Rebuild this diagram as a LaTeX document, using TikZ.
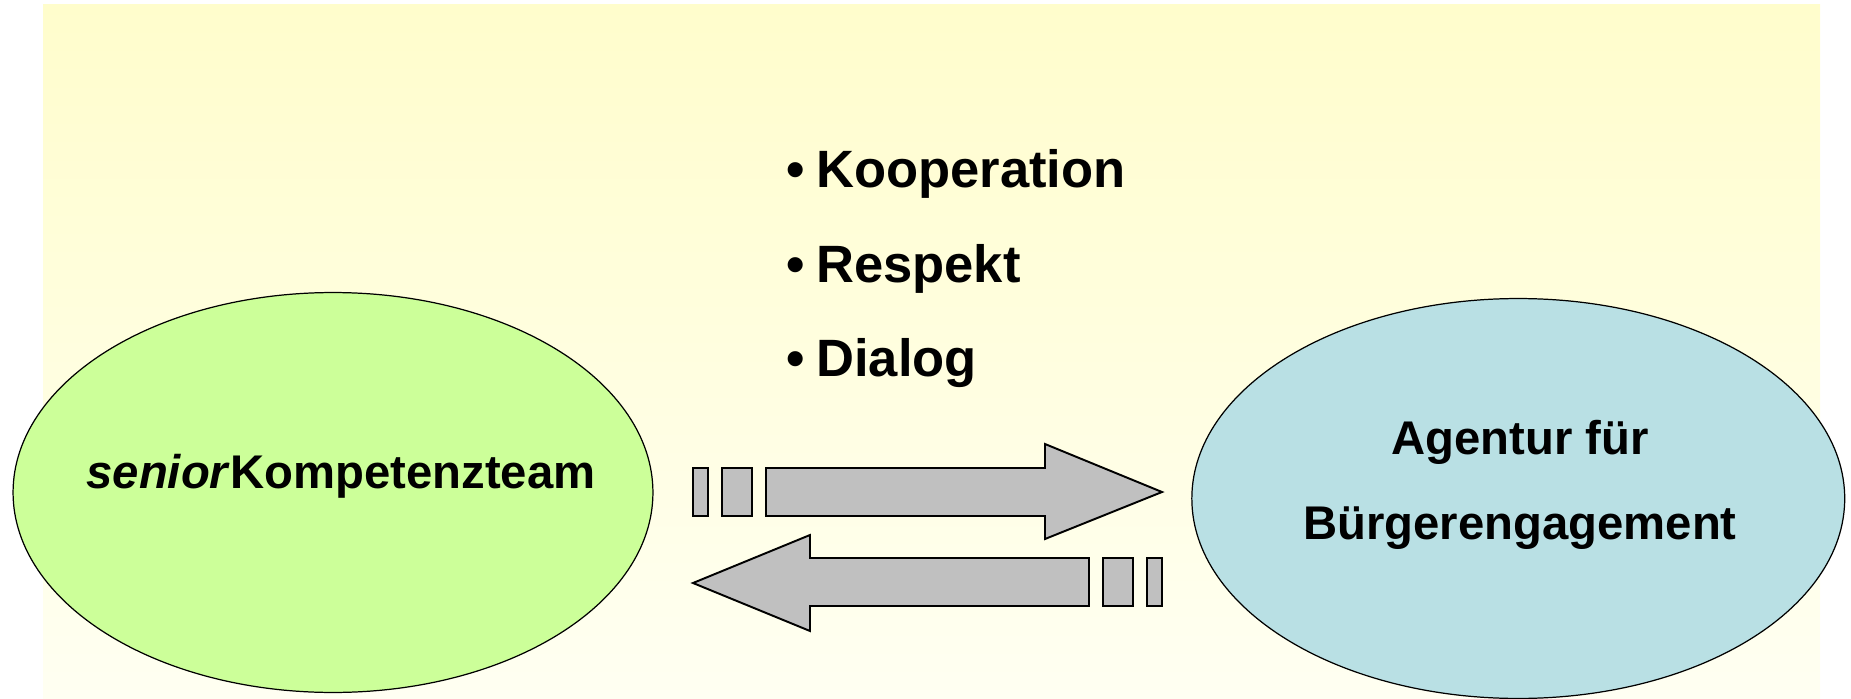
\documentclass[tikz,border=0pt]{standalone}
\usepackage{fontspec}
\setmainfont{Liberation Sans}
\usepackage{tikz}
\usetikzlibrary{shapes.geometric}
\usetikzlibrary{positioning}
\definecolor{bgtop}{RGB}{255,253,204}
\definecolor{bgbottom}{RGB}{255,255,242}
\definecolor{seniorgreen}{RGB}{204,255,153}
\definecolor{agenturblue}{RGB}{185,224,228}
\definecolor{arrowgray}{RGB}{192,192,192}
\tikzset{every picture/.style={x=0.02cm,y=-0.02cm},
  blob/.style={ellipse, draw, line width=0.7pt, minimum height=8cm, inner sep=0pt},
  bigtext/.style={font=\fontsize{26.9}{48.4}\selectfont\bfseries, inner sep=0pt},
  listtext/.style={font=\fontsize{29.9}{36}\selectfont\bfseries, inner sep=0pt, anchor=base west},
  blockarrow/.style={draw, fill=arrowgray, line width=1.1pt}}
\begin{document}
\begin{tikzpicture}
\useasboundingbox (0,0) rectangle (1851,699);
\shade[top color=bgtop, bottom color=bgbottom] (43,5) rectangle (1820,699);

\node (senior) [blob, fill=seniorgreen, minimum width=12.8cm] at (333,492.5) {};
\node (agentur) [blob, fill=agenturblue, minimum width=13.06cm, right of=senior, node distance=23.71cm, yshift=-0.12cm] {};

\node (seniortxt) [bigtext, anchor=base] at (341,488) {\textit{senior}Kompetenzteam};
\node (agenturtxt) [bigtext, align=center] at (1520,485) {Agentur für\\Bürgerengagement};

\node (koop) [listtext] at (786,188) {\textbullet\hspace{0.22em}Kooperation};
\node (resp) [listtext] at ([yshift=-1.9cm]koop.base west) {\textbullet\hspace{0.22em}Respekt};
\node (dial) [listtext] at ([yshift=-1.88cm]resp.base west) {\textbullet\hspace{0.22em}Dialog};

% upper arrow
\draw[blockarrow] (693,468) rectangle (708,516);
\draw[blockarrow] (722,468) rectangle (752,516);
\draw[blockarrow] (766,468) -- (1045,468) -- (1045,444) -- (1162,492) -- (1045,539) -- (1045,516) -- (766,516) -- cycle;
% lower arrow
\draw[blockarrow] (1089,558) -- (810,558) -- (810,535) -- (693,583) -- (810,631) -- (810,606) -- (1089,606) -- cycle;
\draw[blockarrow] (1103,558) rectangle (1133,606);
\draw[blockarrow] (1147,558) rectangle (1162,606);
\end{tikzpicture}
\end{document}
